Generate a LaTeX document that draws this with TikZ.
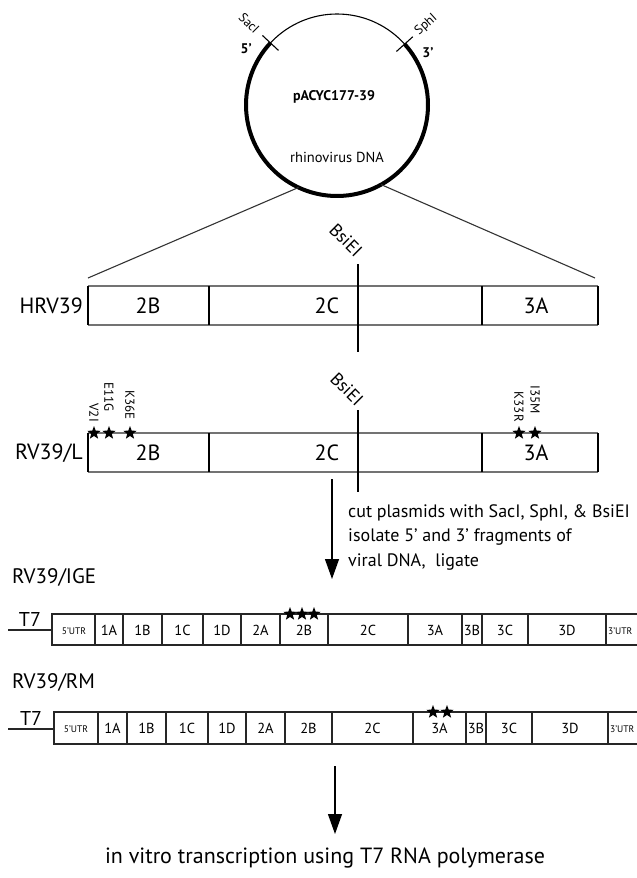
\documentclass[tikz,border=0pt]{standalone}
\usepackage{fontspec}
\setmainfont{PT Sans}
\usetikzlibrary{shapes.geometric,arrows.meta}
\begin{document}
\begin{tikzpicture}[x=1pt,y=1pt,
  lab/.style={inner sep=0pt, font=\fontsize{21}{24}\selectfont},
  big/.style={inner sep=0pt, font=\fontsize{22}{24}\selectfont},
  seg/.style={inner sep=0pt, font=\fontsize{14.5}{16}\selectfont},
  utr/.style={inner sep=0pt, font=\fontsize{9.5}{11}\selectfont},
  mut/.style={inner sep=0pt, rotate=-90, anchor=east, font=\fontsize{13}{14}\selectfont},
  site/.style={inner sep=0pt, font=\fontsize{13}{14}\selectfont},
  bsi/.style={inner sep=0pt, rotate=-45, font=\fontsize{18}{19}\selectfont},
  starmark/.style={star, star points=5, star point ratio=2.4, fill=black, inner sep=0pt, minimum size=14pt},
  thinline/.style={line width=1.1pt, black!80},
  edgeline/.style={line width=1.4pt, black!55},
  divider/.style={line width=2.6pt},
  gline/.style={line width=1.5pt, black!85},
  arr/.style={line width=1.3pt, -{Triangle[length=20pt,width=14pt]}},
  txt/.style={inner sep=0pt, anchor=base west, font=\fontsize{18}{22}\selectfont},
]
\useasboundingbox (0,0) rectangle (637,-878);

% ---------- plasmid ----------
\node[circle, draw, line width=1.1pt, minimum size=182pt, outer sep=0pt, inner sep=0pt] (plasmid) at (337,-105) {};
\draw[line width=4pt] (plasmid.137) arc[start angle=137, end angle=402, radius=91pt];
\draw[line width=1.1pt] ([shift={(137:80pt)}]plasmid.center) -- ([shift={(137:102pt)}]plasmid.center);
\draw[line width=1.1pt] ([shift={(42:80pt)}]plasmid.center) -- ([shift={(42:102pt)}]plasmid.center);
\node[site, rotate=-45] (sac) at ([shift={(137:120pt)}]plasmid.center) {SacI};
\node[site, rotate=42] (sph) at ([shift={(42:120pt)}]plasmid.center) {SphI};
\node[inner sep=0pt, font=\fontsize{14}{15}\selectfont\bfseries] (p5) at ([shift={(148:107pt)}]plasmid.center) {5'};
\node[inner sep=0pt, font=\fontsize{14}{15}\selectfont\bfseries] (p3) at ([shift={(30:105pt)}]plasmid.center) {3'};
\node[inner sep=0pt, font=\fontsize{14}{16}\selectfont\bfseries] (pname) at (334,-97) {pACYC177-39};
\node[inner sep=0pt, font=\fontsize{14.5}{16}\selectfont] (rdna) at (337,-157) {rhinovirus DNA};

\coordinate (hl) at (88,-278);
\coordinate (hr) at (595,-278);
\draw[thinline] (plasmid.-115) -- (hl);
\draw[thinline] (plasmid.-61) -- (hr);

% ---------- HRV39 ----------
\draw[edgeline] (88,-286) -- (598,-286) (88,-325) -- (598,-325);
\foreach \x in {88,209,482,598} \draw[divider] (\x,-286) -- (\x,-325);
\node[big, anchor=east] (hrv) at (83,-306) {HRV39};
\node[big] (h2b) at (148,-306) {2B};
\node[big] (h2c) at (327,-306) {2C};
\node[big] (h3a) at (536,-306) {3A};
\draw[line width=1.1pt] (358,-264) -- (358,-352);
\node[bsi] (bsi1) at (346,-240) {BsiEI};

% ---------- RV39/L ----------
\draw[edgeline] (88,-433) -- (598,-433) (88,-472) -- (598,-472);
\foreach \x in {88,209,482,598} \draw[divider] (\x,-433) -- (\x,-472);
\node[big, anchor=east] (rvl) at (83,-453) {RV39/L};
\node[big] (l2b) at (148,-453) {2B};
\node[big] (l2c) at (327,-453) {2C};
\node[big] (l3a) at (536,-453) {3A};
\draw[line width=1.1pt] (358,-410) -- (358,-492);
\node[bsi] (bsi2) at (347,-389) {BsiEI};
\foreach \x/\n in {94/s1,109/s2,130/s3,519/s4,535/s5} \node[starmark] (\n) at (\x,-433) {};
\node[mut] (m1) at (94,-422) {V2I};
\node[mut] (m2) at (109,-412) {E11G};
\node[mut] (m3) at (130,-420) {K36E};
\node[mut] (m4) at (519,-422) {K33R};
\node[mut] (m5) at (535,-414) {I35M};

% ---------- arrow 1 ----------
\coordinate (a1s) at (332,-479);
\coordinate (a1e) at (332,-579);
\draw[arr] (a1s) -- (a1e);
\node[txt] (t1) at (348,-517) {cut plasmids with SacI, SphI, \& BsiEI};
\node[txt] (t2) at (348,-541) {isolate 5' and 3' fragments of};
\node[txt] (t3) at (348,-566) {viral DNA,\ \ ligate};

% ---------- RV39/IGE ----------
\node[lab, anchor=west] (ige) at (12,-577) {RV39/IGE};
\coordinate (i0) at (8,-630);
\coordinate (i1) at (52,-630);
\draw[gline] (i0) -- (i1);
\node[lab, font=\fontsize{20}{22}\selectfont, anchor=base] (it7) at (30,-626) {T7};
\draw[gline] (640,-614) -- (52,-614) -- (52,-645) -- (640,-645);
\foreach \x in {95,123,162,203,241,280,328,408,462,482,528,606} \draw[gline] (\x,-614) -- (\x,-645);
\node[utr] (iu5) at (74,-631) {5'UTR};
\foreach \a/\b/\t in {95/123/1A,123/162/1B,162/203/1C,203/241/1D,241/280/2A,280/328/2B,328/408/2C,408/462/3A,462/482/3B,482/528/3C,528/606/3D}
  \node[seg] (i\t) at ({(\a+\b)/2},-630) {\t};
\node[utr, anchor=west] (iu3) at (608,-631) {3'UTR};
\foreach \x/\n in {290/is1,302/is2,314/is3} \node[starmark] (\n) at (\x,-614) {};

% ---------- RV39/RM ----------
\node[lab, anchor=west] (rm) at (12,-682) {RV39/RM};
\coordinate (r0) at (8,-729);
\coordinate (r1) at (54,-729);
\draw[gline] (r0) -- (r1);
\node[lab, font=\fontsize{20}{22}\selectfont, anchor=base] (rt7) at (31,-725) {T7};
\draw[gline] (640,-712) -- (54,-712) -- (54,-744) -- (640,-744);
\foreach \x in {98,127,166,208,246,285,332,413,466,486,532,608} \draw[gline] (\x,-712) -- (\x,-744);
\node[utr] (ru5) at (76,-729) {5'UTR};
\foreach \a/\b/\t in {98/127/1A,127/166/1B,166/208/1C,208/246/1D,246/285/2A,285/332/2B,332/413/2C,413/466/3A,466/486/3B,486/532/3C,532/608/3D}
  \node[seg] (r\t) at ({(\a+\b)/2},-728) {\t};
\node[utr, anchor=west] (ru3) at (610,-729) {3'UTR};
\foreach \x/\n in {433/rs1,447/rs2} \node[starmark] (\n) at (\x,-712) {};

% ---------- arrow 2 ----------
\coordinate (a2s) at (335,-766);
\coordinate (a2e) at (335,-834);
\draw[arr] (a2s) -- (a2e);
\node[inner sep=0pt, font=\fontsize{22}{24}\selectfont] (bot) at (325,-858) {in vitro transcription using T7 RNA polymerase};
\end{tikzpicture}
\end{document}
